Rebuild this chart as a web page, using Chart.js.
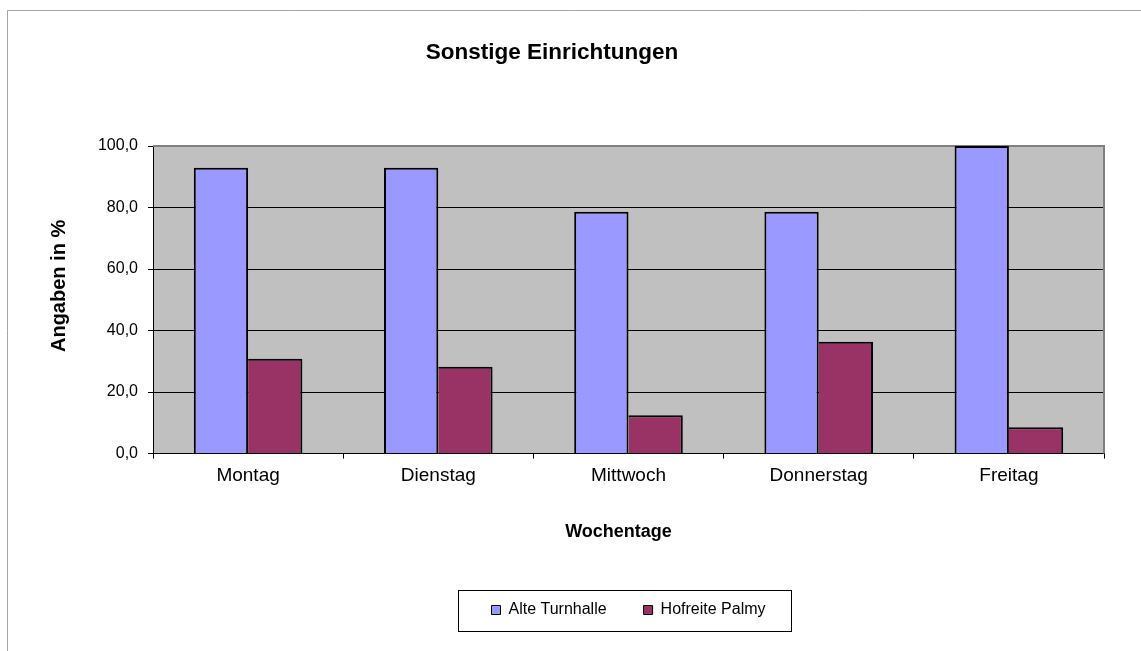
<!DOCTYPE html>
<html lang="de">
<head>
<meta charset="utf-8">
<title>Sonstige Einrichtungen</title>
<script src="https://cdn.jsdelivr.net/npm/chart.js@4/dist/chart.umd.min.js"></script>
<style>
    html, body { margin: 0; padding: 0; background: #fff; }
    #wrap { position: relative; width: 1141px; height: 651px; }
</style>
</head>
<body>
<div id="wrap"><canvas id="chart"></canvas></div>
<script>
// Daten aus dem Diagramm (Angaben in %)
const categories = ["Montag", "Dienstag", "Mittwoch", "Donnerstag", "Freitag"];
const seriesNames = ["Alte Turnhalle", "Hofreite Palmy"];
const alteTurnhalle = [92.9, 92.9, 78.6, 78.6, 100.0];
const hofreitePalmy = [30.8, 28.2, 12.5, 36.4, 8.6];
const seriesColors = ["#9999FF", "#993366"];

Chart.defaults.font.family = "'Liberation Sans', Arial, sans-serif";
Chart.defaults.color = "#000";

// Hintergrund, Rahmen der Grafik und graue Zeichenfläche
const excelLook = {
    id: "excelLook",
    beforeDraw(chart) {
        const { ctx, chartArea: a, width, height } = chart;
        ctx.save();
        ctx.fillStyle = "#fff";
        ctx.fillRect(0, 0, width, height);
        // äußerer Rahmen (nur links und oben sichtbar)
        ctx.strokeStyle = "#A6A6A6";
        ctx.lineWidth = 1;
        ctx.beginPath();
        ctx.moveTo(7.5, height);
        ctx.lineTo(7.5, 10.5);
        ctx.lineTo(width, 10.5);
        ctx.stroke();
        // Zeichenfläche
        ctx.fillStyle = "#C0C0C0";
        ctx.fillRect(a.left, a.top, a.right - a.left, a.bottom - a.top);
        ctx.restore();
    },
    beforeDatasetsDraw(chart) {
        const { ctx, chartArea: a } = chart;
        ctx.save();
        ctx.strokeStyle = "#808080";
        ctx.lineWidth = 2;
        ctx.beginPath();
        ctx.moveTo(a.left, a.top);
        ctx.lineTo(a.right, a.top);
        ctx.lineTo(a.right, a.bottom);
        ctx.stroke();
        ctx.restore();
    },
    afterDraw(chart) {
        // Rahmen um die Legende
        const hb = chart.legend.legendHitBoxes;
        if (!hb || !hb.length) return;
        const last = hb[hb.length - 1];
        const cy = hb[0].top + hb[0].height / 2;
        const x0 = Math.round(hb[0].left - 33);
        const x1 = Math.round(last.left + last.width + 25);
        const ctx = chart.ctx;
        ctx.save();
        ctx.strokeStyle = "#000";
        ctx.lineWidth = 1;
        ctx.strokeRect(x0 + 0.5, Math.round(cy - 20) + 0.5, x1 - x0, 41);
        ctx.restore();
    }
};

new Chart(document.getElementById("chart"), {
    type: "bar",
    data: {
        labels: categories,
        datasets: [{
            label: seriesNames[0],
            data: alteTurnhalle,
            backgroundColor: seriesColors[0],
            borderColor: "#000",
            borderWidth: { top: 2, left: 2, right: 2, bottom: 0 },
            borderSkipped: false
        }, {
            label: seriesNames[1],
            data: hofreitePalmy,
            backgroundColor: seriesColors[1],
            borderColor: "#000",
            borderWidth: { top: 2, left: 0, right: 2, bottom: 0 },
            borderSkipped: false
        }]
    },
    options: {
        responsive: true,
        maintainAspectRatio: false,
        animation: false,
        layout: { padding: { left: 0, right: 37, top: 0, bottom: 23 } },
        datasets: { bar: { categoryPercentage: 0.571, barPercentage: 1.0 } },
        plugins: {
            title: {
                display: true,
                text: "Sonstige Einrichtungen",
                font: { size: 22.5, weight: "bold" },
                padding: { top: 39, bottom: 80 }
            },
            legend: {
                position: "bottom",
                fullSize: false,
                maxHeight: 87,
                labels: {
                    font: { size: 16 },
                    boxWidth: 9,
                    boxHeight: 9,
                    padding: 37,
                    generateLabels(chart) {
                        return chart.data.datasets.map((ds, i) => ({
                            text: ds.label,
                            fillStyle: ds.backgroundColor,
                            strokeStyle: "#000",
                            lineWidth: 1,
                            datasetIndex: i
                        }));
                    }
                }
            },
            tooltip: { enabled: false }
        },
        scales: {
            x: {
                grid: { offset: true, drawOnChartArea: false, drawTicks: true, tickLength: 5, color: "#000" },
                border: { display: true, color: "#000", width: 1 },
                ticks: { font: { size: 19 }, padding: 6 },
                title: {
                    display: true,
                    // Leerzeichen schieben den Titel etwas nach links wie im Original
                    text: "Wochentage    ",
                    font: { size: 18, weight: "bold" },
                    padding: { top: 28, bottom: 22 }
                }
            },
            y: {
                min: 0,
                max: 100,
                afterFit(scale) { scale.width = 153; },
                grid: {
                    color: (c) => c.tick && c.tick.value === 100 ? "rgba(0,0,0,0)" : "#000",
                    tickColor: "#000",
                    tickLength: 5,
                    lineWidth: 1
                },
                border: { display: true, color: "#000", width: 1 },
                ticks: {
                    stepSize: 20,
                    font: { size: 16 },
                    padding: 10,
                    callback: (v) => v.toFixed(1).replace(".", ",")
                },
                title: {
                    display: true,
                    text: "     Angaben in %",
                    font: { size: 20, weight: "bold" },
                    padding: { top: 47, bottom: 0 }
                }
            }
        }
    },
    plugins: [excelLook]
});
</script>
</body>
</html>
